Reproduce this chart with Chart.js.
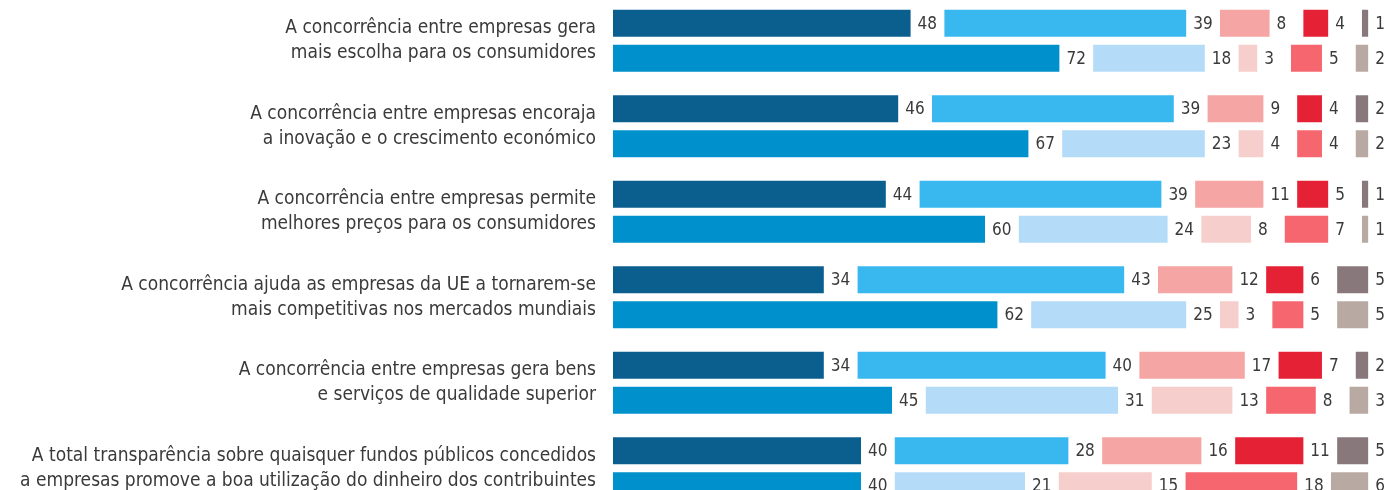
<!DOCTYPE html>
<html lang="pt">
<head>
<meta charset="utf-8">
<script src="https://cdn.jsdelivr.net/npm/chart.js@4.4.1/dist/chart.umd.min.js"></script>
<style>
  html, body { margin: 0; padding: 0; background: #fff; overflow: hidden; }
  body { width: 1388px; height: 490px; position: relative; }
  #wrap { position: absolute; left: 0; top: -2px; width: 1388px; height: 513px; }
</style>
</head>
<body>
<div id="wrap"><canvas id="chart"></canvas></div>
<script>
// Statement labels (two lines each)
const categories = [
  ['A concorrência entre empresas gera', 'mais escolha para os consumidores'],
  ['A concorrência entre empresas encoraja', 'a inovação e o crescimento económico'],
  ['A concorrência entre empresas permite', 'melhores preços para os consumidores'],
  ['A concorrência ajuda as empresas da UE a tornarem-se', 'mais competitivas nos mercados mundiais'],
  ['A concorrência entre empresas gera bens', 'e serviços de qualidade superior'],
  ['A total transparência sobre quaisquer fundos públicos concedidos', 'a empresas promove a boa utilização do dinheiro dos contribuintes'],
];

const answers = ['Totalmente de acordo', 'Tendo a concordar', 'Tendo a discordar', 'Totalmente em desacordo', 'Não sabe'];

// first bar of each pair
const agreeA    = [48, 46, 44, 34, 34, 40];
const tendA     = [39, 39, 39, 43, 40, 28];
const tendDisA  = [8, 9, 11, 12, 17, 16];
const disagreeA = [4, 4, 5, 6, 7, 11];
const dkA       = [1, 2, 1, 5, 2, 5];

// second bar of each pair
const agreeB    = [72, 67, 60, 62, 45, 40];
const tendB     = [18, 23, 24, 25, 31, 21];
const tendDisB  = [3, 4, 8, 3, 13, 15];
const disagreeB = [5, 4, 7, 5, 8, 18];
const dkB       = [2, 2, 1, 5, 3, 6];

const coloursA = ['#0b5f8f', '#38b8ef', '#f5a5a3', '#e52235', '#88787b'];
const coloursB = ['#0091cd', '#b4dbf8', '#f6cfcc', '#f6666f', '#b8aaa3'];

const GAP = 5.45; // room left for the value label between segments (axis units)
const FONT = "'DejaVu Sans Condensed', 'DejaVu Sans', sans-serif";

function buildStack(series, colours, stack) {
  const out = [];
  series.forEach((vals, i) => {
    if (i > 0) {
      out.push({
        label: 'gap', data: categories.map(() => GAP), stack,
        backgroundColor: 'transparent', spacer: true,
      });
    }
    out.push({
      label: answers[i], data: vals, stack,
      backgroundColor: colours[i],
    });
  });
  return out;
}

const datasets = [
  ...buildStack([agreeA, tendA, tendDisA, disagreeA, dkA], coloursA, 'a'),
  ...buildStack([agreeB, tendB, tendDisB, disagreeB, dkB], coloursB, 'b'),
];

const valueLabels = {
  id: 'valueLabels',
  afterDatasetsDraw(chart) {
    const ctx = chart.ctx;
    ctx.save();
    ctx.font = '17px ' + FONT;
    ctx.fillStyle = '#3a3a3a';
    ctx.textAlign = 'left';
    ctx.textBaseline = 'middle';
    chart.data.datasets.forEach((ds, di) => {
      if (ds.spacer) return;
      chart.getDatasetMeta(di).data.forEach((bar, i) => {
        ctx.fillText(String(ds.data[i]), bar.x + 7, bar.y + 1);
      });
    });
    ctx.restore();
  },
};

new Chart(document.getElementById('chart'), {
  type: 'bar',
  data: { labels: categories, datasets },
  plugins: [valueLabels],
  options: {
    indexAxis: 'y',
    responsive: true,
    maintainAspectRatio: false,
    animation: false,
    layout: { padding: 0 },
    categoryPercentage: 0.8187,
    barPercentage: 0.7714,
    scales: {
      x: {
        stacked: true, min: 0, max: 125, display: false,
      },
      y: {
        stacked: true,
        grid: { display: false, drawTicks: false },
        border: { display: false },
        ticks: {
          padding: 17,
          color: '#3a3a3a',
          font: { family: FONT, size: 19, lineHeight: '25px' },
        },
        afterFit: (s) => {
          s.width = 613;
          s.paddingTop = 0;
          s.paddingBottom = 0;
        },
      },
    },
    plugins: {
      legend: { display: false },
      tooltip: { enabled: false },
    },
  },
});
</script>
</body>
</html>
